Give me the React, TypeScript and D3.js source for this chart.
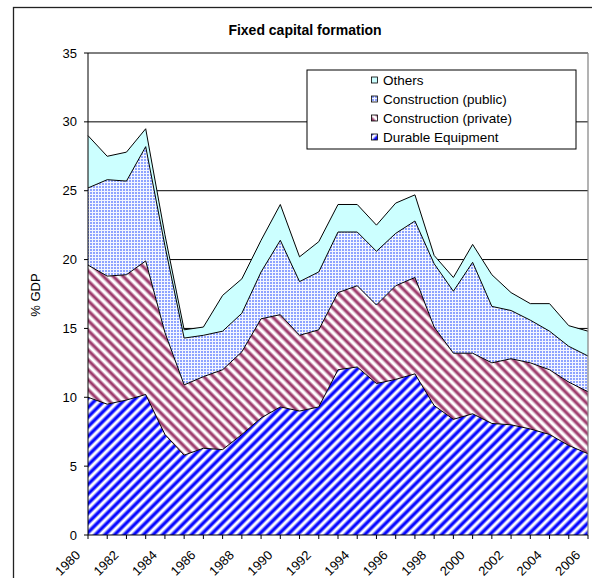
import React from "react";
import * as d3 from "d3";

const years = d3.range(1980, 2007).map(String);
const tickYears = ["1980","1982","1984","1986","1988","1990","1992","1994","1996","1998","2000","2002","2004","2006"];
const yTicks = [0, 5, 10, 15, 20, 25, 30, 35];

const durable = [10.0,9.5,9.8,10.2,7.3,5.8,6.3,6.2,7.3,8.5,9.3,9.0,9.3,12.0,12.2,11.0,11.3,11.7,9.4,8.4,8.8,8.1,8.0,7.7,7.3,6.5,5.9];
const constrPrivate = [9.6,9.3,9.1,9.7,7.4,5.1,5.2,5.8,6.0,7.2,6.7,5.5,5.6,5.6,5.9,5.7,6.8,7.0,5.7,4.8,4.4,4.4,4.8,4.8,4.7,4.6,4.5];
const constrPublic = [5.6,7.0,6.8,8.3,6.3,3.4,3.0,2.8,2.8,3.4,5.4,3.9,4.2,4.4,3.9,3.9,3.8,4.1,4.6,4.5,6.6,4.1,3.5,3.1,2.8,2.6,2.6];
const others = [3.8,1.7,2.1,1.3,0.8,0.6,0.6,2.6,2.5,2.3,2.6,1.8,2.2,2.0,2.0,1.9,2.2,1.9,0.6,1.0,1.3,2.3,1.3,1.2,2.0,1.5,1.8];

const seriesKeys = ["durable", "private", "public", "others"];
const seriesNames = ["Durable Equipment", "Construction (private)", "Construction (public)", "Others"];
const fills = ["url(#pDurable)", "url(#pPrivate)", "url(#pPublic)", "#ccffff"];

const FONT = "'Liberation Sans', Arial, sans-serif";

export default function App() {
  const W = 592, H = 578;
  const left = 88, right = 588, top = 53, bottom = 535;
  const x = d3.scaleLinear().domain([0, years.length - 1]).range([left, right]);
  const y = d3.scaleLinear().domain([0, 35]).range([bottom, top]);

  const table = years.map((yr, i) => ({
    year: yr,
    durable: durable[i],
    private: constrPrivate[i],
    public: constrPublic[i],
    others: others[i],
  }));
  const stacked = d3.stack<any>().keys(seriesKeys)(table);
  const area = d3.area<any>().x((_d, i) => x(i)).y0(d => y(d[0])).y1(d => y(d[1]));
  const topLine = d3.line<any>().x((_d, i) => x(i)).y(d => y(d[1]));

  const legendOrder = [3, 2, 1, 0];
  const legX = 307, legY = 70, legW = 269, legH = 79;

  return (
    <svg width={W} height={H} style={{ position: "absolute", left: 0, top: 0, background: "#fff" }}>
      <defs>
        <linearGradient id="gBlue" x1="0" x2="1" y1="0" y2="0">
          <stop offset="0" stopColor="#ffffff" />
          <stop offset="0.12" stopColor="#ffffff" />
          <stop offset="0.42" stopColor="#0000ff" />
          <stop offset="0.62" stopColor="#0000ff" />
          <stop offset="0.92" stopColor="#ffffff" />
          <stop offset="1" stopColor="#ffffff" />
        </linearGradient>
        <linearGradient id="gMaroon" x1="0" x2="1" y1="0" y2="0">
          <stop offset="0" stopColor="#ffffff" />
          <stop offset="0.15" stopColor="#ffffff" />
          <stop offset="0.45" stopColor="#993366" />
          <stop offset="0.6" stopColor="#993366" />
          <stop offset="0.9" stopColor="#ffffff" />
          <stop offset="1" stopColor="#ffffff" />
        </linearGradient>
        <pattern id="pDurable" patternUnits="userSpaceOnUse" width="6.8" height="20" patternTransform="rotate(45)">
          <rect x="0" y="0" width="6.8" height="20" fill="url(#gBlue)" />
        </pattern>
        <pattern id="pPrivate" patternUnits="userSpaceOnUse" width="7" height="20" patternTransform="rotate(-45)">
          <rect x="0" y="0" width="7" height="20" fill="url(#gMaroon)" />
        </pattern>
        <pattern id="pPublic" patternUnits="userSpaceOnUse" width="3" height="3">
          <rect x="0" y="0" width="3" height="3" fill="#f3f6ff" />
          <rect x="0" y="0" width="2" height="2" fill="#a9baff" />
          <rect x="0.4" y="0.4" width="1.2" height="1.2" fill="#5d7bff" />
        </pattern>
      </defs>

      <rect x={13.5} y={7.5} width={640} height={640} fill="none" stroke="#222" strokeWidth={1.3} />

      <text x={305} y={35} textAnchor="middle" fontFamily={FONT} fontWeight="bold" fontSize={14}>
        Fixed capital formation
      </text>

      {yTicks.map(t => (
        <g key={"g" + t}>
          {t > 0 && <line x1={left} x2={right} y1={y(t)} y2={y(t)} stroke="#000" strokeWidth={1} />}
          <line x1={left - 4} x2={left} y1={y(t)} y2={y(t)} stroke="#000" strokeWidth={1} />
          <text x={left - 11} y={y(t) + 4.5} textAnchor="end" fontFamily={FONT} fontSize={13}>{t}</text>
        </g>
      ))}

      {stacked.map((s, k) => (
        <path key={"a" + k} d={area(s as any) || ""} fill={fills[k]} stroke="none" />
      ))}
      {stacked.map((s, k) => (
        <path key={"l" + k} d={topLine(s as any) || ""} fill="none" stroke="#000" strokeWidth={1} />
      ))}

      <line x1={right} x2={right} y1={top} y2={bottom} stroke="#808080" strokeWidth={1.2} />
      <line x1={left} x2={left} y1={top} y2={bottom} stroke="#000" strokeWidth={1} />
      <line x1={left} x2={right} y1={bottom} y2={bottom} stroke="#000" strokeWidth={1} />

      {years.map((yr, i) => (
        <line key={"xt" + yr} x1={x(i)} x2={x(i)} y1={bottom} y2={bottom + 4} stroke="#000" strokeWidth={1} />
      ))}
      {years.map((yr, i) =>
        tickYears.includes(yr) ? (
          <text key={"xl" + yr} transform={`translate(${x(i) - 7},${556}) rotate(-45)`} textAnchor="end"
            fontFamily={FONT} fontSize={13}>{yr}</text>
        ) : null
      )}

      <text transform={`translate(40,295) rotate(-90)`} textAnchor="middle" fontFamily={FONT} fontSize={13}>% GDP</text>

      <rect x={legX} y={legY} width={legW} height={legH} fill="#fff" stroke="#000" strokeWidth={1} />
      {legendOrder.map((k, r) => {
        const cy = 80 + r * 19;
        return (
          <g key={"lg" + k}>
            <rect x={371.5} y={cy - 3} width={6} height={6} fill={fills[k]} stroke="#000" strokeWidth={0.8} />
            <text x={383} y={cy + 4.5} fontFamily={FONT} fontSize={13.5}>{seriesNames[k]}</text>
          </g>
        );
      })}
    </svg>
  );
}
